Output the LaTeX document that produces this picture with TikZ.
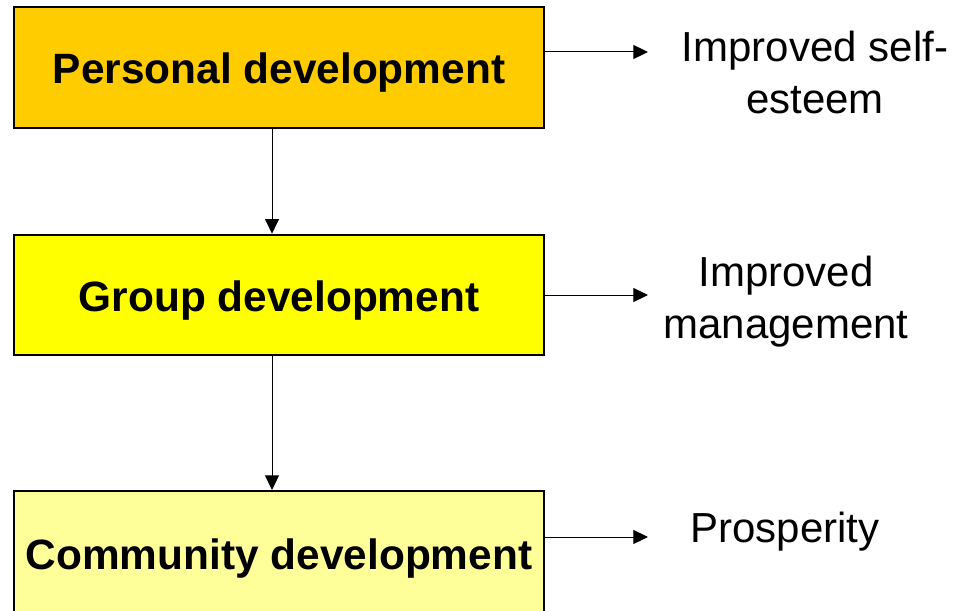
\documentclass[tikz,border=0pt]{standalone}
\usepackage{fontspec}
\setmainfont{Liberation Sans}
\usetikzlibrary{arrows.meta}

\definecolor{stageA}{HTML}{FFCC00}
\definecolor{stageB}{HTML}{FFFF00}
\definecolor{stageC}{HTML}{FFFF99}

\begin{document}
\begin{tikzpicture}[x=0.75pt, y=-0.75pt,
    stage/.style={draw=black, line width=1.5pt, minimum width=397.5pt, minimum height=90.5pt,
                  text height=31pt, font=\fontsize{31.8}{36}\selectfont\bfseries},
    outcome/.style={align=center, font=\fontsize{31.5}{39}\selectfont},
    link/.style={line width=0.75pt, -{Triangle[length=11pt,width=10.5pt]}}]

   \useasboundingbox (0,0) rectangle (966,610);

   % the three stages
   \node[stage, fill=stageA] (personal) at (279,67.5) {Personal development};
   \node[stage, fill=stageB] (group) at (279,295) {Group development};
   \node[stage, fill=stageC, minimum height=93pt] (community) at (279,553) {Community development};

   % what each stage leads to
   \node[outcome] (selfesteem) at (815,72) {Improved self-\\esteem};
   \node[outcome] (management) at (786,302) {Improved\\management};
   \node[outcome] (prosperity) at (785,532) {Prosperity};

   \coordinate (spine) at (272,0);
   \coordinate (tipA) at (648,52);
   \coordinate (tipB) at (648,295);
   \coordinate (tipC) at (648,537);

   \draw[link] (spine |- personal.south) -- (spine |- group.north);
   \draw[link] (spine |- group.south) -- (spine |- community.north);

   \draw[link] (personal.east |- tipA) -- (tipA);
   \draw[link] (group.east |- tipB) -- (tipB);
   \draw[link] (community.east |- tipC) -- (tipC);

\end{tikzpicture}
\end{document}
